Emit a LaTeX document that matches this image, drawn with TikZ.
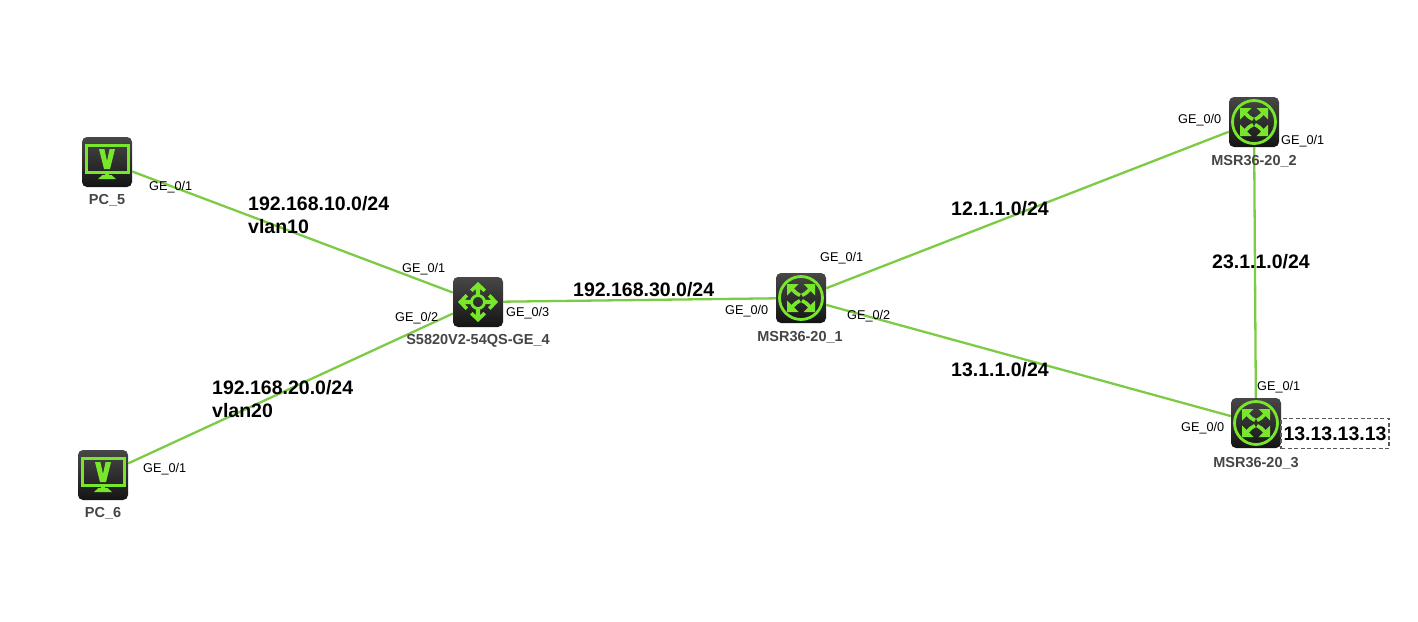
\documentclass[tikz,border=0pt]{standalone}
\usepackage{fontspec}
\setmainfont{Liberation Sans}
\definecolor{linkgreen}{HTML}{7CCB45}
\definecolor{icongreen}{HTML}{78E62A}
\definecolor{devgray}{HTML}{454545}
\tikzset{x=1pt,y=-1pt,
    device/.style={rounded corners=5pt,minimum size=50pt,inner sep=0pt,
        top color=black!72,bottom color=black!92},
    link/.style={linkgreen,line width=2.3pt},
    port/.style={inner sep=0pt,anchor=west,font=\fontsize{12.7}{15}\selectfont},
    devname/.style={inner sep=0pt,text=devgray,font=\fontsize{14.5}{17}\selectfont\bfseries},
    net/.style={inner sep=0pt,anchor=west,align=left,font=\fontsize{19.5}{23}\selectfont\bfseries},
    pcicon/.pic={
        \draw[icongreen,line width=3pt] (-21,-17) rectangle (21,10);
        \fill[icongreen] (-8,-13) -- (-2.6,-13) -- (0,-1) -- (2.6,-13) -- (8,-13) -- (3,7) -- (-3,7) -- cycle;
        \fill[icongreen] (-2,10) rectangle (2,13) (-4.5,13) -- (4.5,13) -- (9,17) -- (-9,17) -- cycle;
    },
    switchicon/.pic={
        \draw[icongreen,line width=2.8pt] (0,0) circle (6.5);
        \foreach \a in {0,90,180,270}{
            \begin{scope}[rotate=\a]
            \fill[icongreen] (0,-20) -- (8,-12.5) -- (5.5,-10) -- (2.2,-13) -- (2.2,-7) -- (-2.2,-7) -- (-2.2,-13) -- (-5.5,-10) -- (-8,-12.5) -- cycle;
            \end{scope}
        }
    },
    routericon/.pic={
        \draw[icongreen,line width=2.8pt] (0,0) circle (21.5);
        \foreach \sx in {1,-1}
        \foreach \sy in {1,-1}{
            \begin{scope}[xscale=\sx,yscale=\sy]
            \fill[icongreen] (14,-14) -- (14,-2.5) -- (2.5,-14) -- cycle;
            \draw[icongreen,line width=3.6pt] (9,-9) .. controls (6,-6) and (4,-3.5) .. (1,-2.6);
            \end{scope}
        }
    },
}
\begin{document}
\begin{tikzpicture}
\useasboundingbox (0,0) rectangle (1418,621);
% devices
\node[device] (pc5) at (107,162) {};
\node[device] (pc6) at (103,475) {};
\node[device] (sw4) at (478,302) {};
\node[device] (msr1) at (801,298) {};
\node[device] (msr2) at (1254,122) {};
\node[device] (msr3) at (1256,423) {};
\pic at (pc5) {pcicon};
\pic at (pc6) {pcicon};
\pic at (sw4) {switchicon};
\foreach \r in {msr1,msr2,msr3}
    \pic at (\r) {routericon};
% links
\draw[link] (pc5) -- (sw4);
\draw[link] (pc6) -- (sw4);
\draw[link] (sw4) -- (msr1);
\draw[link] (msr1) -- (msr2);
\draw[link] (msr1) -- (msr3);
\draw[link] (msr2) -- (msr3);
% device names
\node[devname] (pc5name) at (107,200) {PC\_5};
\node[devname] (pc6name) at (103,513) {PC\_6};
\node[devname] (sw4name) at (478,341) {S5820V2-54QS-GE\_4};
\node[devname] (msr1name) at (800,337) {MSR36-20\_1};
\node[devname] (msr2name) at (1254,161) {MSR36-20\_2};
\node[devname] (msr3name) at (1256,463) {MSR36-20\_3};
% ports
\node[port] (pc5p1) at (149,187) {GE\_0/1};
\node[port] (pc6p1) at (143,469) {GE\_0/1};
\node[port] (sw4p1) at (402,269) {GE\_0/1};
\node[port] (sw4p2) at (395,318) {GE\_0/2};
\node[port] (sw4p3) at (506,313) {GE\_0/3};
\node[port] (msr1p1) at (820,258) {GE\_0/1};
\node[port] (msr1p0) at (725,311) {GE\_0/0};
\node[port] (msr1p2) at (847,316) {GE\_0/2};
\node[port] (msr2p0) at (1178,120) {GE\_0/0};
\node[port] (msr2p1) at (1281,141) {GE\_0/1};
\node[port] (msr3p1) at (1257,387) {GE\_0/1};
\node[port] (msr3p0) at (1181,428) {GE\_0/0};
% networks
\node[net] (vlan10) at (248,215) {192.168.10.0/24\\vlan10};
\node[net] (vlan20) at (212,399) {192.168.20.0/24\\vlan20};
\node[net] (net30) at (573,290) {192.168.30.0/24};
\node[net] (net12) at (951,209) {12.1.1.0/24};
\node[net] (net13) at (951,370) {13.1.1.0/24};
\node[net] (net23) at (1212,262) {23.1.1.0/24};
\node[draw=black!65,dash pattern=on 4pt off 2.5pt,line width=1.8pt,minimum width=108pt,minimum height=30pt,inner sep=0pt,
    font=\fontsize{19.5}{23}\selectfont\bfseries] (loop3) at (1335,433.5) {13.13.13.13};
\end{tikzpicture}
\end{document}
